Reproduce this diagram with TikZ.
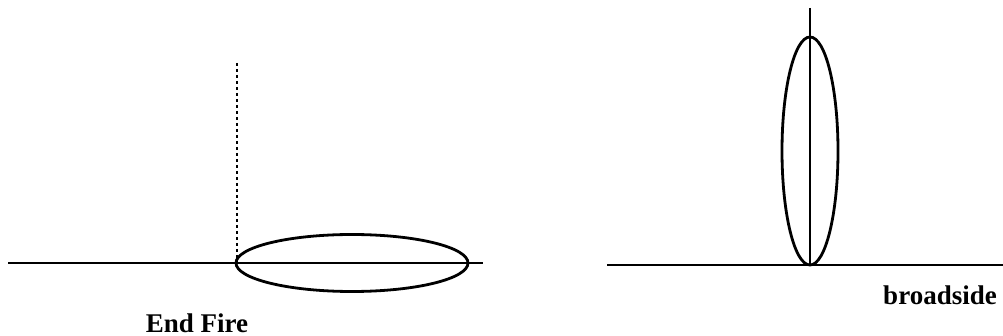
\documentclass[tikz,border=0pt]{standalone}
\usepackage{fontspec}
\setmainfont{Liberation Serif}
\usetikzlibrary{shapes.geometric}
\begin{document}
\begin{tikzpicture}[x=1pt,y=-1pt,
  ln/.style={line width=2.8pt},
  dotln/.style={line width=2.6pt,dash pattern=on 3.5pt off 2.5pt},
  lbl/.style={font=\fontsize{27}{31}\selectfont\bfseries,anchor=base,inner sep=0pt}]
\useasboundingbox (0,0) rectangle (1003,336);
% End fire
\coordinate (L1) at (8,263);
\coordinate (L2) at (483,263);
\coordinate (D1) at (237,63);
\coordinate (D2) at (237,263);
\draw[ln] (L1) -- (L2);
\draw[dotln] (D1) -- (D2);
\node[ln,draw,ellipse,minimum width=232,minimum height=57,inner sep=0pt] (E1) at (352,263) {};
\node[lbl] (t1) at (197,332) {End Fire};
% broadside
\coordinate (R1) at (607,265);
\coordinate (R2) at (1003,265);
\coordinate (V1) at (810,8);
\coordinate (V2) at (810,265);
\draw[ln] (R1) -- (R2);
\draw[ln] (V1) -- (V2);
\node[ln,draw,ellipse,minimum width=56,minimum height=228,inner sep=0pt] (E2) at (810,151) {};
\node[lbl] (t2) at (940,305) {broadside};
\end{tikzpicture}
\end{document}
